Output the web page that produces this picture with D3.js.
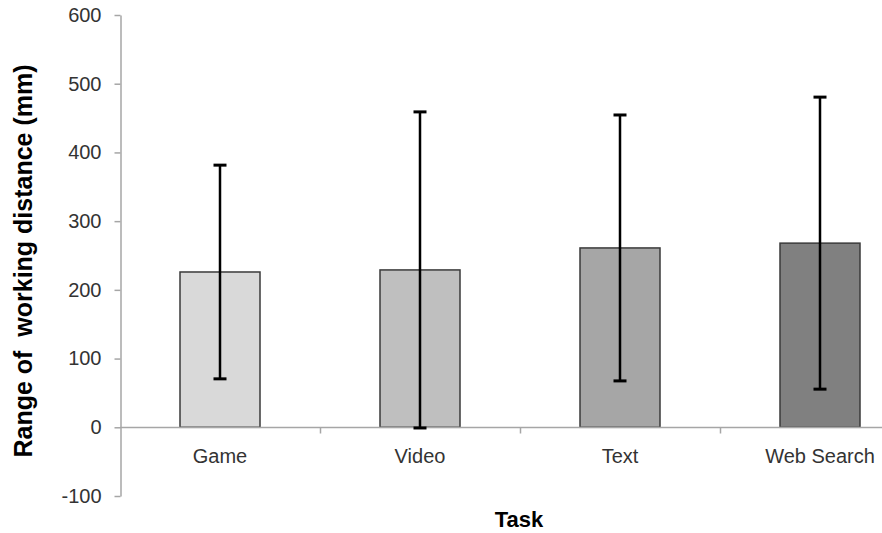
<!DOCTYPE html>
<html>
<head>
<meta charset="utf-8">
<script src="https://cdn.jsdelivr.net/npm/d3@7"></script>
<style>
  html, body { margin: 0; padding: 0; background: #fff; }
  svg { display: block; font-family: "Liberation Sans", Arial, sans-serif; }
</style>
</head>
<body>
<svg id="chart" width="882" height="533"></svg>
<script>
// Working-distance range per task: mean with symmetric error (SD)
const categories = ["Game", "Video", "Text", "Web Search"];
const means = [226, 229, 261, 268];
const errors = [155.5, 230, 193.5, 212.5];
const yTicks = [-100, 0, 100, 200, 300, 400, 500, 600];
const barColors = ["#d9d9d9", "#bfbfbf", "#a6a6a6", "#808080"];

const data = categories.map((c, i) => ({ cat: c, mean: means[i], err: errors[i], color: barColors[i] }));

const svg = d3.select("#chart");
const W = 882;

const x = d3.scaleBand()
  .domain(categories)
  .range([120, 920])
  .paddingInner(0.6)
  .paddingOuter(0.3);

const y = d3.scaleLinear()
  .domain([-100, 600])
  .range([496, 15]);

const axisColor = "#a6a6a6";
const textColor = "#333";

// Y axis (plain hyphen for negatives)
const yAxis = svg.append("g")
  .attr("transform", "translate(120.5,0)")
  .call(d3.axisLeft(y).tickValues(yTicks).tickFormat(d => String(d))
    .tickSize(6).tickSizeOuter(0).tickPadding(13));
yAxis.select(".domain").attr("stroke", axisColor).attr("stroke-width", 1.5);
yAxis.selectAll(".tick line").attr("stroke", axisColor).attr("stroke-width", 1.5);
yAxis.selectAll(".tick text")
  .attr("fill", textColor)
  .style("font-size", "20px");

// Bars
svg.append("g").selectAll("rect")
  .data(data)
  .join("rect")
  .attr("x", d => x(d.cat))
  .attr("y", d => y(d.mean))
  .attr("width", x.bandwidth())
  .attr("height", d => y(0) - y(d.mean))
  .attr("fill", d => d.color)
  .attr("stroke", "#3a3a3a")
  .attr("stroke-width", 1.5);

// X axis line at zero with category separators
const y0 = Math.round(y(0)) + 0.5;
svg.append("line")
  .attr("x1", 120).attr("x2", W)
  .attr("y1", y0).attr("y2", y0)
  .attr("stroke", axisColor).attr("stroke-width", 1.5);

const step = x.step();
const sepX = categories.slice(1).map(c => x(c) - (step - x.bandwidth()) / 2);
svg.append("g").selectAll("line")
  .data(sepX)
  .join("line")
  .attr("x1", d => d + 0.5).attr("x2", d => d + 0.5)
  .attr("y1", y0).attr("y2", y0 + 6)
  .attr("stroke", axisColor).attr("stroke-width", 1.5);

// Category labels
svg.append("g").selectAll("text")
  .data(categories)
  .join("text")
  .attr("x", d => x(d) + x.bandwidth() / 2)
  .attr("y", y0 + 35)
  .attr("text-anchor", "middle")
  .attr("fill", textColor)
  .style("font-size", "20px")
  .text(d => d);

// Error bars
const eb = svg.append("g").selectAll("g")
  .data(data)
  .join("g");
eb.append("line")
  .attr("x1", d => x(d.cat) + x.bandwidth() / 2)
  .attr("x2", d => x(d.cat) + x.bandwidth() / 2)
  .attr("y1", d => y(d.mean + d.err))
  .attr("y2", d => y(d.mean - d.err))
  .attr("stroke", "#000").attr("stroke-width", 2.5);
[1, -1].forEach(s => {
  eb.append("line")
    .attr("x1", d => x(d.cat) + x.bandwidth() / 2 - 6.5)
    .attr("x2", d => x(d.cat) + x.bandwidth() / 2 + 6.5)
    .attr("y1", d => y(d.mean + s * d.err))
    .attr("y2", d => y(d.mean + s * d.err))
    .attr("stroke", "#000").attr("stroke-width", 3);
});

// Axis titles
svg.append("text")
  .attr("x", 519)
  .attr("y", 527)
  .attr("text-anchor", "middle")
  .attr("font-weight", "bold")
  .attr("fill", "#000")
  .style("font-size", "22px")
  .text("Task");

svg.append("text")
  .attr("transform", "translate(32,261) rotate(-90)")
  .attr("text-anchor", "middle")
  .attr("font-weight", "bold")
  .attr("fill", "#000")
  .style("font-size", "25px")
  .style("white-space", "pre")
  .text("Range of  working distance (mm)");
</script>
</body>
</html>
